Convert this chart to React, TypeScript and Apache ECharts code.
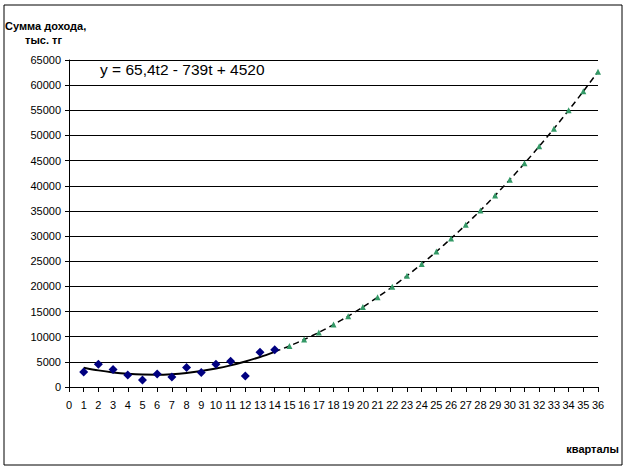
import React, { useEffect, useRef } from "react";
import * as echarts from "echarts";

const quarters: number[] = [1, 2, 3, 4, 5, 6, 7, 8, 9, 10, 11, 12, 13, 14];
const income: number[] = [3000, 4500, 3500, 2400, 1400, 2600, 2000, 3900, 2900, 4500, 5100, 2200, 6900, 7400];
const trendValues: number[] = [3846, 3304, 2892, 2610, 2460, 2440, 2552, 2794, 3166, 3670, 4304, 5070, 5966, 6992];
const forecastQuarters: number[] = [15, 16, 17, 18, 19, 20, 21, 22, 23, 24, 25, 26, 27, 28, 29, 30, 31, 32, 33, 34, 35, 36];
const forecastValues: number[] = [8150, 9438, 10858, 12408, 14088, 15900, 17842, 19916, 22120, 24454, 26920, 29516, 32244, 35102, 38090, 41210, 44460, 47842, 51354, 54996, 58770, 62674];
const yTitleLines: string[] = ["Сумма дохода,", "тыс. тг"];
const xTitle = "кварталы";
const equation = "y = 65,4t2 - 739t + 4520";

const FONT = 'Arial, "Liberation Sans", sans-serif';

export default function App() {
  const ref = useRef<HTMLDivElement>(null);
  useEffect(() => {
    if (!ref.current) return;
    const chart = echarts.init(ref.current, undefined, { renderer: "svg" });
    const actualData = quarters.map((q, i) => [q, income[i]]);
    const trendData = quarters.map((q, i) => [q, trendValues[i]]);
    const forecastData = forecastQuarters.map((q, i) => [q, forecastValues[i]]);
    const dashedData = [[quarters[quarters.length - 1], trendValues[trendValues.length - 1]], ...forecastData];
    chart.setOption({
      animation: false,
      backgroundColor: "#ffffff",
      grid: { left: 69, right: 30, top: 60, bottom: 81, containLabel: false },
      xAxis: {
        type: "value",
        min: 0,
        max: 36,
        interval: 1,
        axisLine: { show: true, lineStyle: { color: "#000", width: 1 } },
        axisTick: { show: true, inside: false, length: 5, lineStyle: { color: "#000" } },
        splitLine: { show: false },
        axisLabel: { color: "#000", fontSize: 11, fontFamily: FONT, margin: 12, showMinLabel: true, showMaxLabel: true, hideOverlap: false, formatter: (v: number) => String(v) },
      },
      yAxis: {
        type: "value",
        min: 0,
        max: 65000,
        interval: 5000,
        axisLine: { show: true, lineStyle: { color: "#000", width: 1 } },
        axisTick: { show: true, inside: false, length: 4, lineStyle: { color: "#000" } },
        splitLine: { show: true, lineStyle: { color: "#000", width: 1 } },
        axisLabel: { color: "#000", fontSize: 11, fontFamily: FONT, margin: 8, formatter: (v: number) => String(v) },
      },
      series: [
        {
          type: "line",
          data: trendData,
          smooth: 0.3,
          showSymbol: false,
          lineStyle: { color: "#000", width: 2 },
          z: 2,
        },
        {
          type: "line",
          data: dashedData,
          smooth: 0.3,
          showSymbol: false,
          lineStyle: { color: "#000", width: 1.5, type: [6, 4] },
          z: 2,
        },
        {
          type: "scatter",
          data: actualData,
          symbol: "diamond",
          symbolSize: 9,
          itemStyle: { color: "#000080", opacity: 1 },
          z: 3,
        },
        {
          type: "scatter",
          data: forecastData,
          symbol: "triangle",
          symbolSize: 6,
          itemStyle: { color: "#339966", opacity: 1 },
          z: 3,
        },
      ],
      graphic: [
        {
          type: "rect",
          shape: { x: 4, y: 5, width: 618, height: 460 },
          style: { fill: "none", stroke: "#000", lineWidth: 1 },
          silent: true,
        },
        {
          type: "text",
          x: 5,
          y: 26,
          style: { text: yTitleLines[0], fontSize: 11, fontWeight: "bold", fontFamily: FONT, fill: "#000", textVerticalAlign: "middle" },
        },
        {
          type: "text",
          x: 25,
          y: 40,
          style: { text: yTitleLines[1], fontSize: 11, fontWeight: "bold", fontFamily: FONT, fill: "#000", textVerticalAlign: "middle" },
        },
        {
          type: "text",
          x: 100,
          y: 69,
          style: { text: equation, fontSize: 15.5, fontFamily: FONT, fill: "#000", textVerticalAlign: "middle" },
        },
        {
          type: "text",
          x: 619,
          y: 449,
          style: { text: xTitle, fontSize: 11, fontWeight: "bold", fontFamily: FONT, fill: "#000", textAlign: "right", textVerticalAlign: "middle" },
        },
      ],
    });
    return () => chart.dispose();
  }, []);
  return <div ref={ref} style={{ position: "fixed", left: 0, top: 0, width: 628, height: 468 }} />;
}
